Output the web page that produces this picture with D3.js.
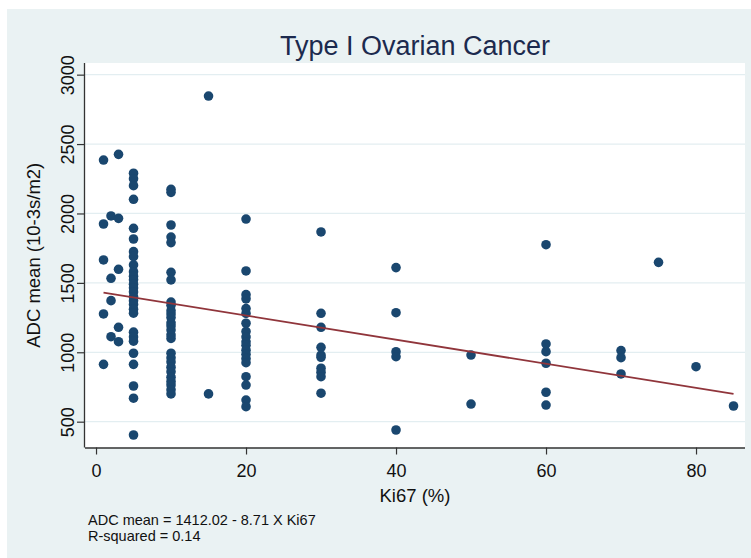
<!DOCTYPE html>
<html>
<head>
<meta charset="utf-8">
<script src="https://cdn.jsdelivr.net/npm/d3@7"></script>
<style>
  body { margin: 0; background: #fff; }
  text { font-family: "Liberation Sans", Arial, sans-serif; }
</style>
</head>
<body>
<svg id="chart" width="751" height="558"></svg>
<script>
// Ki67 (%) and ADC mean
const ki67 = [
	1, 1, 1, 1, 1,
	2, 2, 2, 2,
	3, 3, 3, 3, 3,
	5, 5, 5, 5, 5, 5, 5, 5, 5, 5, 5, 5, 5, 5, 5, 5, 5, 5, 5, 5, 5, 5, 5, 5, 5, 5, 5, 5,
	10, 10, 10, 10, 10, 10, 10, 10, 10, 10, 10, 10, 10, 10, 10, 10, 10, 10, 10, 10, 10, 10, 10, 10, 10, 10, 10,
	15, 15,
	20, 20, 20, 20, 20, 20, 20, 20, 20, 20, 20, 20, 20, 20, 20, 20, 20, 20, 20,
	30, 30, 30, 30, 30, 30, 30, 30, 30, 30,
	40, 40, 40, 40, 40,
	50, 50,
	60, 60, 60, 60, 60, 60,
	70, 70, 70,
	75, 80, 85
];
const adcMean = [
	2385, 1924, 1665, 1276, 913,
	1982, 1533, 1372, 1112,
	2426, 1965, 1598, 1180, 1076,
	2290, 2250, 2200, 2102, 1893, 1816, 1725, 1689, 1629, 1580, 1548, 1522, 1490, 1463, 1435, 1400, 1372, 1345, 1310, 1282, 1145, 1110, 1080, 993, 913, 757, 669, 404,
	2174, 2152, 1917, 1830, 1790, 1576, 1521, 1362, 1338, 1300, 1275, 1250, 1212, 1190, 1160, 1125, 1100, 993, 960, 930, 893, 860, 820, 790, 765, 730, 700,
	2846, 700,
	1960, 1586, 1415, 1385, 1315, 1280, 1209, 1150, 1110, 1075, 1050, 1015, 985, 955, 925, 824, 764, 656, 608,
	1867, 1281, 1180, 1036, 980, 964, 885, 856, 824, 705,
	1610, 1285, 1004, 968, 440,
	980, 627,
	1775, 1060, 1004, 921, 712, 620,
	1012, 961, 844,
	1648, 896, 613
];

// fitted line ends
const fitX = [1, 85];
const fitY = [1430, 700];

const xTicks = [0, 20, 40, 60, 80];
const yTicks = [500, 1000, 1500, 2000, 2500, 3000];

const titleText = "Type I Ovarian Cancer";
const xTitle = "Ki67 (%)";
const yTitle = "ADC mean (10-3s/m2)";
const notes = ["ADC mean = 1412.02 - 8.71 X Ki67", "R-squared = 0.14"];

const W = 751, H = 558;
const plot = { left: 85, right: 745, top: 63, bottom: 447.5 };

const svg = d3.select('#chart');

const x = d3.scaleLinear().domain([-1.47, 86.53]).range([plot.left, plot.right]);
const y = d3.scaleLinear().domain([314, 3084]).range([plot.bottom, plot.top]);

// graph region
svg.append('rect')
	.attr('x', 7).attr('y', 9)
	.attr('width', W - 7).attr('height', H - 9)
	.attr('fill', '#eaf2f3');

svg.append('rect')
	.attr('x', plot.left).attr('y', plot.top)
	.attr('width', plot.right - plot.left).attr('height', plot.bottom - plot.top)
	.attr('fill', '#fff');

// grid
svg.append('g').selectAll('line').data(yTicks).join('line')
	.attr('x1', plot.left).attr('x2', plot.right)
	.attr('y1', d => y(d)).attr('y2', d => y(d))
	.attr('stroke', '#e3eef1').attr('stroke-width', 1.2);

// axes
const xAxis = svg.append('g')
	.attr('transform', `translate(0,${plot.bottom})`)
	.call(d3.axisBottom(x).tickValues(xTicks).tickSize(7).tickPadding(10).tickSizeOuter(0));
xAxis.select('.domain').attr('d', `M${plot.left},0.5H${plot.right}`);

const yAxis = svg.append('g')
	.attr('transform', `translate(${plot.left},0)`)
	.call(d3.axisLeft(y).tickValues(yTicks).tickFormat(d3.format('d')).tickSize(8).tickSizeOuter(0));
yAxis.select('.domain').attr('d', `M-0.5,${plot.top}V${plot.bottom}`);

[xAxis, yAxis].forEach(g => {
	g.select('.domain').attr('stroke', '#333').attr('stroke-width', 1.3);
	g.selectAll('.tick line').attr('stroke', '#333').attr('stroke-width', 1.2);
	g.selectAll('.tick text').attr('fill', '#111').style('font-size', '18px')
		.style('font-family', '"Liberation Sans", Arial, sans-serif');
});

yAxis.selectAll('.tick text')
	.attr('x', null).attr('dy', null)
	.attr('text-anchor', 'middle')
	.attr('transform', 'translate(-11,0) rotate(-90)');

// points
svg.append('g').selectAll('circle').data(ki67.map((k, i) => [k, adcMean[i]])).join('circle')
	.attr('cx', d => x(d[0]))
	.attr('cy', d => y(d[1]))
	.attr('r', 4.8)
	.attr('fill', '#1a476f');

// fit line
svg.append('path')
	.datum(fitX.map((k, i) => [k, fitY[i]]))
	.attr('d', d3.line().x(d => x(d[0])).y(d => y(d[1])))
	.attr('stroke', '#90353b').attr('stroke-width', 1.8).attr('fill', 'none');

// titles
svg.append('text')
	.attr('x', (plot.left + plot.right) / 2).attr('y', 55)
	.attr('text-anchor', 'middle')
	.attr('fill', '#1c2a4e')
	.style('font-size', '27px')
	.text(titleText);

svg.append('text')
	.attr('x', (plot.left + plot.right) / 2).attr('y', 502)
	.attr('text-anchor', 'middle')
	.attr('fill', '#111')
	.style('font-size', '18.5px')
	.text(xTitle);

svg.append('text')
	.attr('transform', `translate(40,${(plot.top + plot.bottom) / 2}) rotate(-90)`)
	.attr('text-anchor', 'middle')
	.attr('fill', '#111')
	.style('font-size', '18.5px')
	.text(yTitle);

svg.append('g').selectAll('text').data(notes).join('text')
	.attr('x', 88)
	.attr('y', (d, i) => 525 + i * 16)
	.attr('fill', '#111')
	.style('font-size', '14.5px')
	.text(d => d);
</script>
</body>
</html>
